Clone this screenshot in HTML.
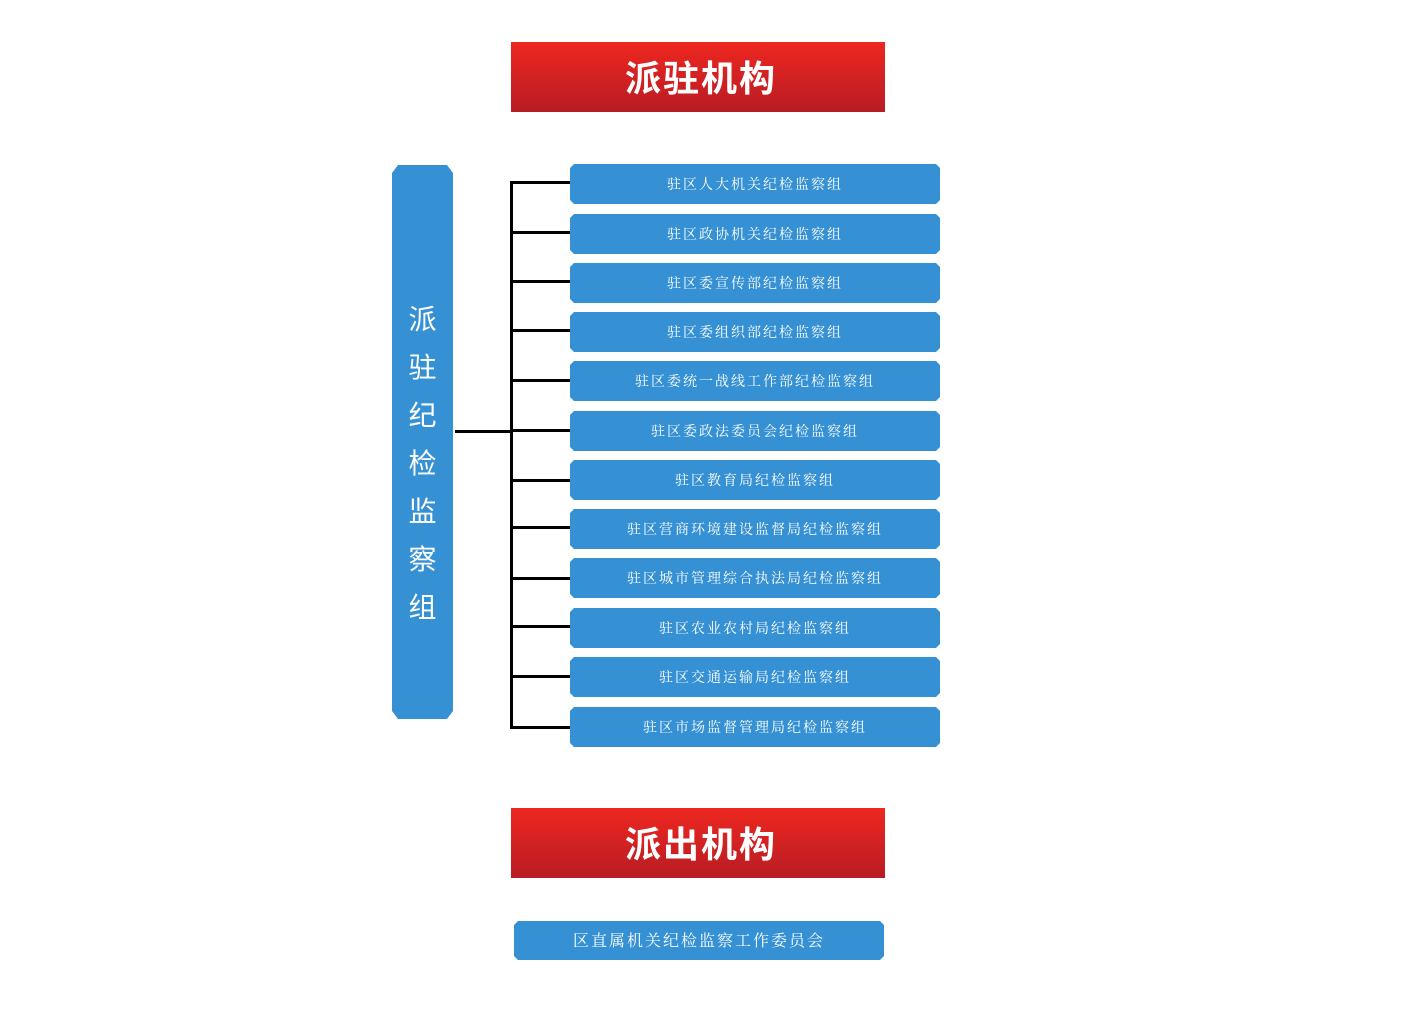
<!DOCTYPE html>
<html><head><meta charset="utf-8"><style>
body{margin:0;width:1406px;height:1024px;background:#fff;position:relative;overflow:hidden;font-family:"Liberation Sans","Noto Sans CJK SC",sans-serif}
.t{position:absolute;left:511px;width:374px;height:70px;background:linear-gradient(#ee2720,#b81c24);color:#fff;font-weight:bold;font-size:36px;text-align:center;line-height:74px;letter-spacing:2px;text-indent:6px}
.b{position:absolute;left:570px;width:370px;height:40px;background:#3591d3;color:#fff;font-family:"Liberation Serif","Noto Serif CJK SC",serif;font-size:14px;letter-spacing:2px;text-align:center;line-height:44px;clip-path:polygon(4px 0,calc(100% - 4px) 0,100% 4px,100% calc(100% - 4px),calc(100% - 4px) 100%,4px 100%,0 calc(100% - 4px),0 4px)}
.h{position:absolute;left:511px;width:59px;height:3px;background:#000}
</style></head><body>
<div class="t" style="top:42px">派驻机构</div>
<div style="position:absolute;left:392px;top:165px;width:61px;height:554px;background:#3591d3;clip-path:polygon(6px 0,55px 0,61px 8px,61px 546px,55px 554px,6px 554px,0 546px,0 8px);color:#fff;font-size:28px;font-family:'Liberation Sans','Noto Sans CJK SC',sans-serif;text-align:center;line-height:48px;padding-top:131px;box-sizing:border-box">派<br>驻<br>纪<br>检<br>监<br>察<br>组</div>
<div style="position:absolute;left:455px;top:430px;width:57px;height:3px;background:#000"></div>
<div style="position:absolute;left:510px;top:181px;width:3px;height:548px;background:#000"></div>
<div class="h" style="top:181px"></div><div class="b" style="top:164px">驻区人大机关纪检监察组</div>
<div class="h" style="top:231px"></div><div class="b" style="top:214px">驻区政协机关纪检监察组</div>
<div class="h" style="top:280px"></div><div class="b" style="top:263px">驻区委宣传部纪检监察组</div>
<div class="h" style="top:329px"></div><div class="b" style="top:312px">驻区委组织部纪检监察组</div>
<div class="h" style="top:379px"></div><div class="b" style="top:361px">驻区委统一战线工作部纪检监察组</div>
<div class="h" style="top:429px"></div><div class="b" style="top:411px">驻区委政法委员会纪检监察组</div>
<div class="h" style="top:479px"></div><div class="b" style="top:460px">驻区教育局纪检监察组</div>
<div class="h" style="top:526px"></div><div class="b" style="top:509px">驻区营商环境建设监督局纪检监察组</div>
<div class="h" style="top:577px"></div><div class="b" style="top:558px">驻区城市管理综合执法局纪检监察组</div>
<div class="h" style="top:625px"></div><div class="b" style="top:608px">驻区农业农村局纪检监察组</div>
<div class="h" style="top:675px"></div><div class="b" style="top:657px">驻区交通运输局纪检监察组</div>
<div class="h" style="top:726px"></div><div class="b" style="top:707px">驻区市场监督管理局纪检监察组</div>
<div class="t" style="top:808px">派出机构</div>
<div class="b" style="top:921px;left:514px;font-size:16px;height:39px;line-height:42px">区直属机关纪检监察工作委员会</div>
</body></html>
